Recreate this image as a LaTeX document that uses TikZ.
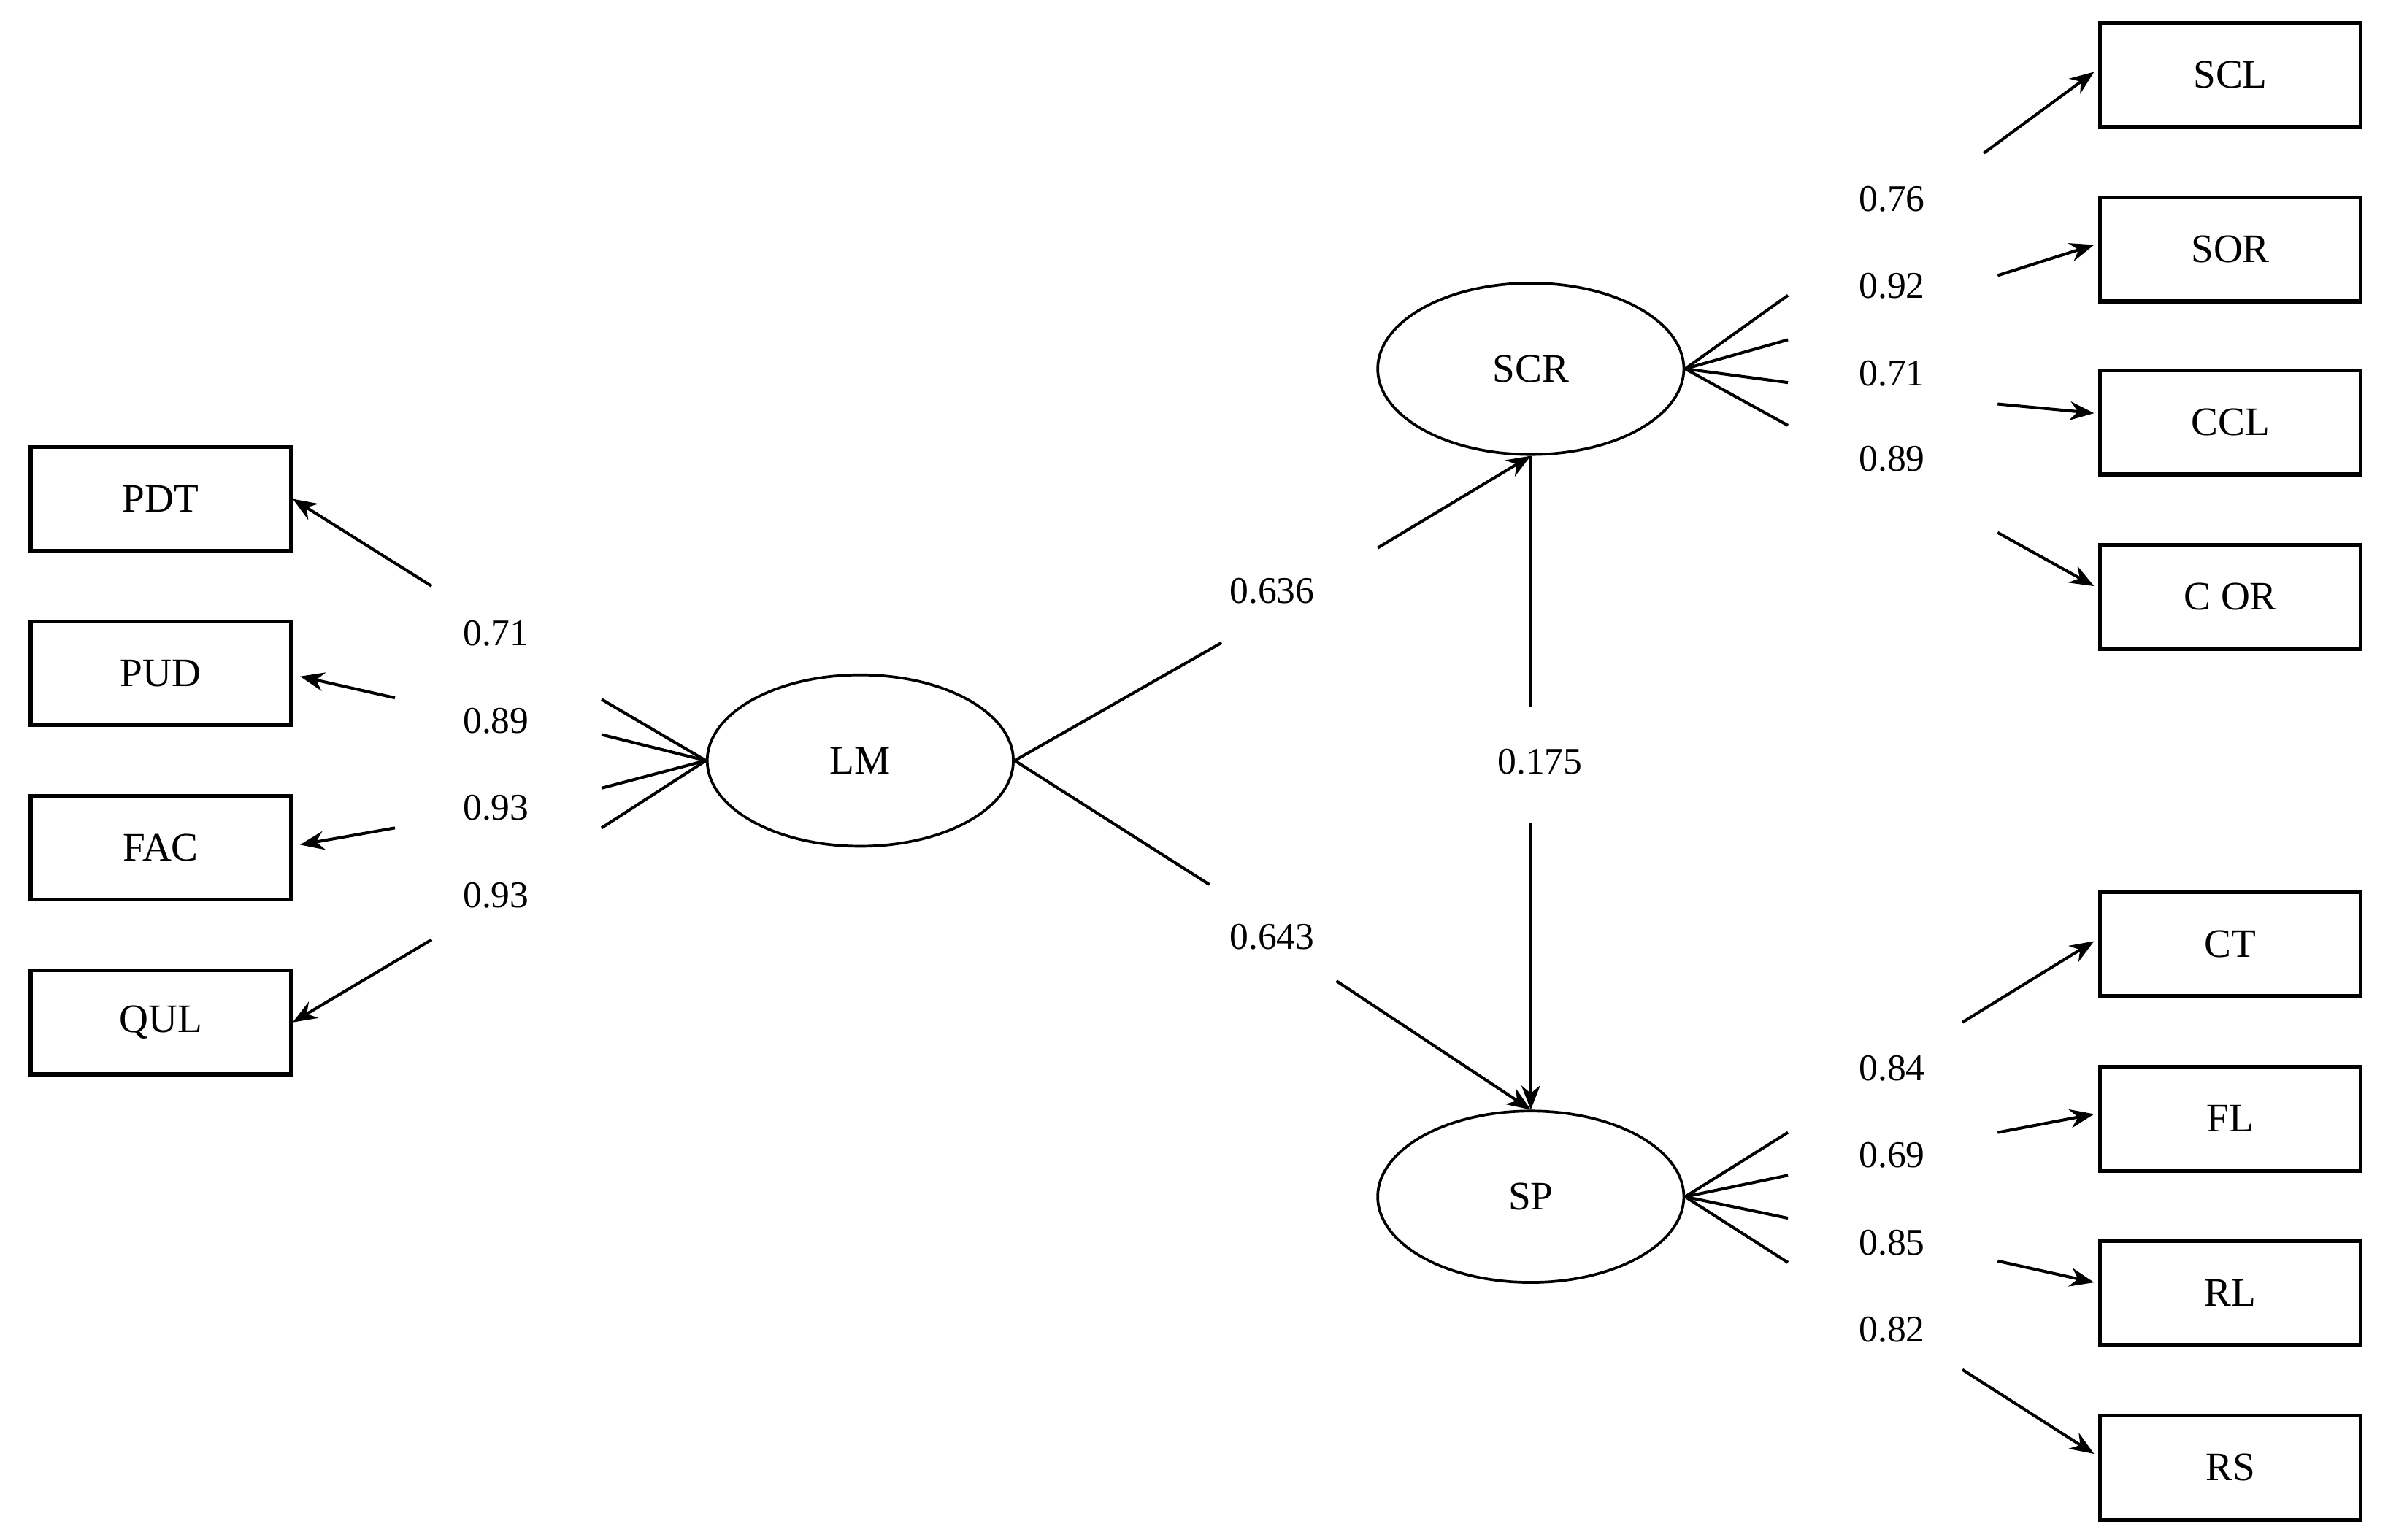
\documentclass[tikz,border=0pt]{standalone}
\usepackage{fontspec}
\setmainfont{Liberation Serif}
\usetikzlibrary{arrows.meta,shapes.geometric}
\begin{document}
\begin{tikzpicture}[x=0.02cm,y=-0.02cm,
  box/.style={draw,line width=1.4pt,minimum width=3.4cm,minimum height=1.36cm,inner sep=0pt,font=\fontsize{15}{15}\selectfont},
  lat/.style={draw,line width=1pt,ellipse,minimum width=4cm,minimum height=2.24cm,inner sep=0pt,font=\fontsize{15}{15}\selectfont},
  lbl/.style={font=\fontsize{14}{14}\selectfont,inner sep=1pt},
  ln/.style={line width=1.1pt},
  arr/.style={line width=1.1pt,-{Stealth[length=9pt,width=7pt]}}]
\useasboundingbox (0,0) rectangle (1560,1006);
\fill[white] (0,0) rectangle (1560,1006);
% left boxes
\node[box] (PDT) at (105,326) {PDT};
\node[box] (PUD) at (105,440) {PUD};
\node[box] (FAC) at (105,554) {FAC};
\node[box] (QUL) at (105,668) {QUL};
% right boxes
\node[box] (SCL) at (1457,49) {SCL};
\node[box] (SOR) at (1457,163) {SOR};
\node[box] (CCL) at (1457,276) {CCL};
\node[box] (COR) at (1457,390) {C OR};
\node[box] (CT) at (1457,617) {CT};
\node[box] (FL) at (1457,731) {FL};
\node[box] (RL) at (1457,845) {RL};
\node[box] (RS) at (1457,959) {RS};
% latents
\node[lat] (LM) at (562,497) {LM};
\node[lat] (SCR) at (1000,241) {SCR};
\node[lat] (SP) at (1000,782) {SP};
% labels
\node[lbl] (l1) at (324,414) {0.71};
\node[lbl] (l2) at (324,471) {0.89};
\node[lbl] (l3) at (324,528) {0.93};
\node[lbl] (l4) at (324,585) {0.93};
\node[lbl] (a1) at (831,386) {0.636};
\node[lbl] (a2) at (831,612) {0.643};
\node[lbl] (a3) at (1006,498) {0.175};
\node[lbl] (r1) at (1236,130) {0.76};
\node[lbl] (r2) at (1236,187) {0.92};
\node[lbl] (r3) at (1236,244) {0.71};
\node[lbl] (r4) at (1236,300) {0.89};
\node[lbl] (s1) at (1236,698) {0.84};
\node[lbl] (s2) at (1236,755) {0.69};
\node[lbl] (s3) at (1236,812) {0.85};
\node[lbl] (s4) at (1236,869) {0.82};
% left fan
\foreach \y in {457,480,515,541} \draw[ln] (LM.west) -- (393,\y);
\draw[arr] (282,383) -- (PDT.east);
\draw[arr] (258,456) -- (196,442);
\draw[arr] (258,541) -- (196,552);
\draw[arr] (282,614) -- (QUL.east);
% structural
\draw[ln] (LM.east) -- (798,420);
\draw[arr] (900,358) -- (SCR.south);
\draw[ln] (LM.east) -- (790,578);
\draw[arr] (873,641) -- (SP.north);
\draw[ln] (SCR.south) -- (1000,462);
\draw[arr] (1000,538) -- (SP.north);
% SCR fan
\foreach \y in {193,222,250,278} \draw[ln] (SCR.east) -- (1168,\y);
\draw[arr] (1296,100) -- (1368,47);
\draw[arr] (1305,180) -- (1368,160);
\draw[arr] (1305,264) -- (1368,270);
\draw[arr] (1305,348) -- (1368,383);
% SP fan
\foreach \y in {740,768,796,825} \draw[ln] (SP.east) -- (1168,\y);
\draw[arr] (1282,668) -- (1368,615);
\draw[arr] (1305,740) -- (1368,728);
\draw[arr] (1305,824) -- (1368,838);
\draw[arr] (1282,895) -- (1368,950);
\end{tikzpicture}
\end{document}
